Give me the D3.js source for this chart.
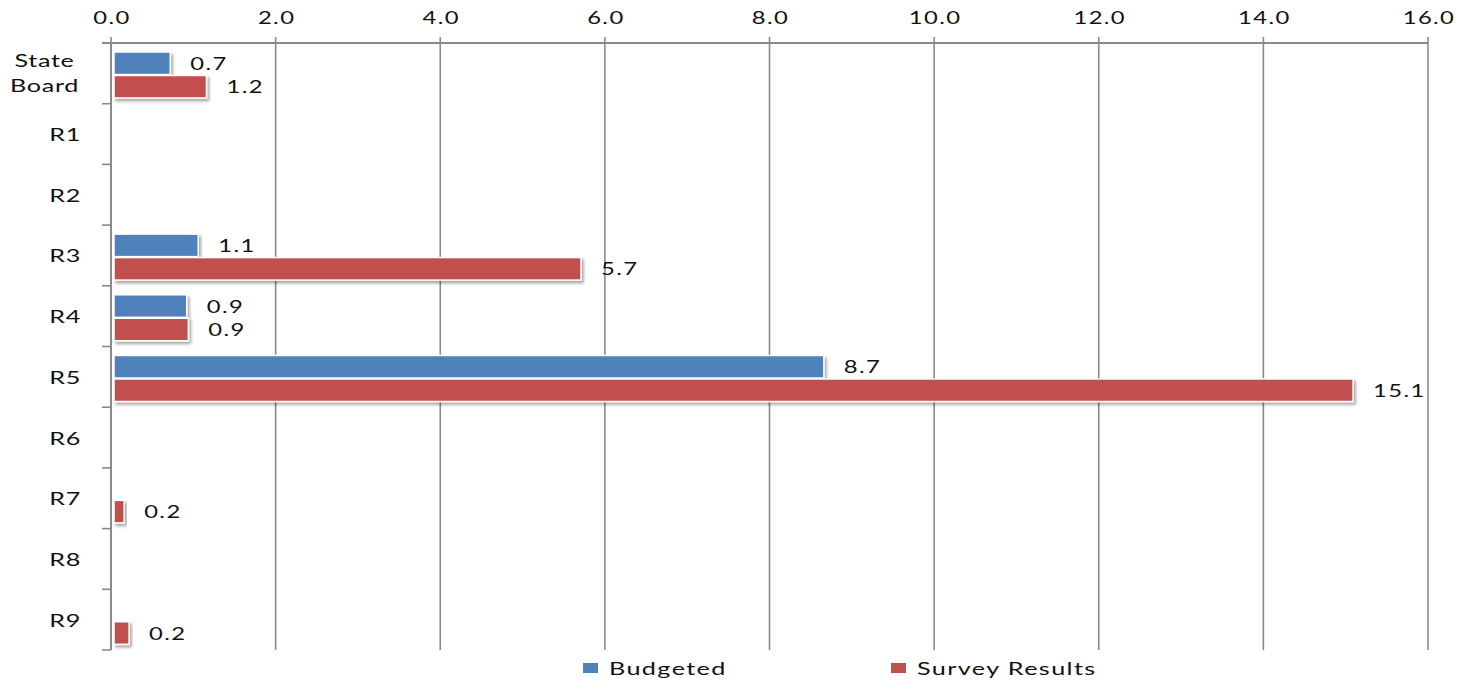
<!DOCTYPE html>
<html><head><meta charset="utf-8">
<script src="https://cdn.jsdelivr.net/npm/d3@7"></script>
<style>
html,body{margin:0;padding:0;background:#fff;}
svg{display:block;}
text{font-family:Lato,"Open Sans",sans-serif;fill:#111;}
</style></head>
<body>
<svg id="chart" width="1460" height="684"></svg>
<script>
const categories = ["State Board","R1","R2","R3","R4","R5","R6","R7","R8","R9"];
const budgeted   = [0.72, null, null, 1.06, 0.92, 8.66, null, null, null, null];
const survey     = [1.16, null, null, 5.71, 0.94, 15.09, null, 0.16, null, 0.22];
const seriesNames = ["Budgeted","Survey Results"];
const seriesColors = ["#4f81bd","#c0504d"];
const tickValues = [0,2,4,6,8,10,12,14,16];

(function(){
const svg = d3.select("#chart");
const defs = svg.append("defs");
const f = defs.append("filter").attr("id","shadow").attr("x","-10%").attr("y","-30%").attr("width","130%").attr("height","190%");
f.append("feDropShadow").attr("dx",2).attr("dy",2.5).attr("stdDeviation",1.6).attr("flood-color","#000").attr("flood-opacity",0.35);

const mLeft = 111, mRight = 1428, mTop = 43, mBottom = 650;
const x = d3.scaleLinear().domain([0,16]).range([mLeft,mRight]);
const y = d3.scaleBand().domain(categories).range([mTop,mBottom]);
const inner = d3.scaleBand().domain([0,1]).range([0,46]).paddingInner(0.04);

const SX = 1.4;
function label(parent, px, py, str, anchor, size, ls){
  const g = parent.append("g").attr("transform",`translate(${px},${py}) scale(${SX},1)`);
  g.append("text").attr("text-anchor",anchor).attr("dominant-baseline","central")
    .style("font-size",size+"px").style("letter-spacing",(ls||0)+"px").text(str);
  return g;
}

const grid = svg.append("g");
grid.selectAll("line").data(tickValues).join("line")
  .attr("x1",d=>x(d)).attr("x2",d=>x(d))
  .attr("y1",mTop-6).attr("y2",mBottom)
  .attr("stroke","#8a8a8a").attr("stroke-width",1.6);
svg.append("line").attr("x1",mLeft-9).attr("x2",mRight).attr("y1",mTop).attr("y2",mTop)
  .attr("stroke","#8a8a8a").attr("stroke-width",2);
svg.append("line").attr("x1",mLeft).attr("x2",mLeft).attr("y1",mTop).attr("y2",mBottom)
  .attr("stroke","#8a8a8a").attr("stroke-width",2);
const yTicks = categories.map((c)=>y(c)).concat([mBottom]);
svg.append("g").selectAll("line").data(yTicks).join("line")
  .attr("x1",mLeft-9).attr("x2",mLeft).attr("y1",d=>d).attr("y2",d=>d)
  .attr("stroke","#8a8a8a").attr("stroke-width",1.6);

const tl = svg.append("g");
tickValues.forEach(v=>label(tl, x(v)+1, 17, d3.format(".1f")(v), "middle", 17, 1));

const cl = svg.append("g");
categories.forEach(c=>{
  const cy = y(c)+y.bandwidth()/2;
  if(c==="State Board"){
    label(cl, 44.5, cy-13, "State", "middle", 18, 0.5);
    label(cl, 44.5, cy+12, "Board", "middle", 18, 0.5);
  } else {
    label(cl, 81, cy, c, "end", 18, 0.5);
  }
});

const series = [budgeted, survey];
const barsG = svg.append("g");
const labelsG = svg.append("g");
series.forEach((vals, si)=>{
  const data = categories.map((c,i)=>({c, v: vals[i]})).filter(d=>d.v!=null);
  barsG.selectAll(null).data(data).join("rect")
    .attr("x", x(0)+3)
    .attr("y", d=>y(d.c)+9+inner(si))
    .attr("width", d=>Math.max(2, x(d.v)-x(0)-3))
    .attr("height", inner.bandwidth())
    .attr("fill", seriesColors[si])
    .attr("stroke","#fff").attr("stroke-width",1.5)
    .attr("filter","url(#shadow)");
  data.forEach(d=>{
    label(labelsG, x(d.v)+20, y(d.c)+9+inner(si)+inner.bandwidth()/2, d3.format(".1f")(d.v), "start", 17, 1);
  });
});

const lg = svg.append("g");
const legendX = [583, 891];
seriesNames.forEach((n,i)=>{
  lg.append("rect").attr("x",legendX[i]).attr("y",663).attr("width",15).attr("height",10).attr("fill",seriesColors[i]);
  label(lg, legendX[i]+26, 668, n, "start", 18, 1);
});
})();
</script>
</body></html>
